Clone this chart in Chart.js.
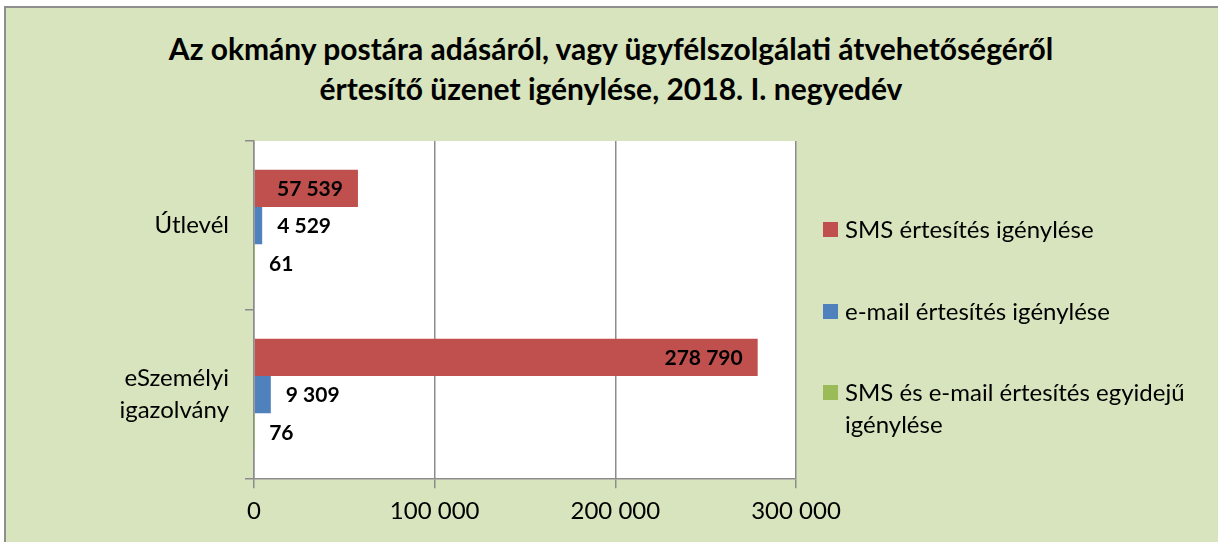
<!DOCTYPE html>
<html>
<head>
<meta charset="utf-8">
<script src="https://cdn.jsdelivr.net/npm/chart.js@4.4.1/dist/chart.umd.min.js"></script>
<style>
	body { margin:0; background:#fff; font-family:Lato, sans-serif; }
	#frame { position:absolute; left:4px; top:6px; width:1220px; height:540px; background:#d7e4bd; border-left:2px solid #8e8e8e; border-top:2px solid #8e8e8e; }
	#wrap { position:absolute; left:0; top:0; width:1218px; height:542px; }
	#title { position:absolute; left:0; top:28px; width:1222px; text-align:center; font-weight:bold; font-size:30px; line-height:40px; color:#000; }
	#legend { position:absolute; left:823px; top:0; font-size:24px; color:#000; }
	.item { position:absolute; left:0; width:395px; display:flex; align-items:flex-start; line-height:32px; }
	.box { width:15px; height:15px; margin-top:9px; margin-right:7px; flex:none; }
	.txt { width:370px; }
</style>
</head>
<body>
<div id="frame"></div>
<div id="title"></div>
<div id="wrap"><canvas id="chart" width="1218" height="542"></canvas></div>
<div id="legend"></div>

<script>
var titleLines = ['Az okmány postára adásáról, vagy ügyfélszolgálati átvehetőségéről', 'értesítő üzenet igénylése, 2018. I. negyedév'];
var categories = ['Útlevél', ['eSzemélyi', 'igazolvány']];
var seriesNames = ['SMS értesítés igénylése', 'e-mail értesítés igénylése', 'SMS és e-mail értesítés egyidejű igénylése'];
var smsValues = [57539, 278790];
var emailValues = [4529, 9309];
var bothValues = [61, 76];
var xTicks = [0, 100000, 200000, 300000];
var colors = ['#c0504d', '#4f81bd', '#9bbb59'];

function fmt(v) {
	return v.toString().replace(/\B(?=(\d{3})+(?!\d))/g, ' ');
}

document.getElementById('title').innerHTML = titleLines.join('<br>');

// white plot area
var plotBg = {
	id: 'plotBg',
	beforeDraw: function(chart) {
		var a = chart.chartArea, ctx = chart.ctx;
		ctx.save();
		ctx.fillStyle = '#fff';
		ctx.fillRect(a.left, a.top, a.right - a.left, a.bottom - a.top);
		ctx.restore();
	}
};

// value labels
var valueLabels = {
	id: 'valueLabels',
	afterDatasetsDraw: function(chart) {
		var ctx = chart.ctx;
		ctx.save();
		ctx.font = 'bold 21px Lato';
		ctx.fillStyle = '#000';
		ctx.textBaseline = 'middle';
		chart.data.datasets.forEach(function(ds, i) {
			chart.getDatasetMeta(i).data.forEach(function(bar, j) {
				var v = ds.data[j];
				if (i == 0) {
					ctx.textAlign = 'right';
					ctx.fillText(fmt(v), bar.x - 15, bar.y + 1);
				} else {
					ctx.textAlign = 'left';
					ctx.fillText(fmt(v), bar.x + 15, bar.y + 1);
				}
			});
		});
		ctx.restore();
	}
};

var config = {
	type: 'bar',
	data: {
		labels: categories,
		datasets: [
			{ label: seriesNames[0], data: smsValues, backgroundColor: colors[0] },
			{ label: seriesNames[1], data: emailValues, backgroundColor: colors[1] },
			{ label: seriesNames[2], data: bothValues, backgroundColor: colors[2] }
		]
	},
	options: {
		indexAxis: 'y',
		responsive: false,
		animation: false,
		layout: { padding: { left: 0, right: 422, top: 141, bottom: 7 } },
		datasets: { bar: { categoryPercentage: 0.66, barPercentage: 1 } },
		plugins: {
			legend: { display: false },
			tooltip: { enabled: false },
			title: { display: false }
		},
		scales: {
			x: {
				min: 0, max: 300000,
				afterBuildTicks: function(scale) {
					scale.ticks = xTicks.map(function(v) { return { value: v }; });
				},
				grid: { color: '#8c8c8c', lineWidth: 1.5, tickLength: 9, tickColor: '#8c8c8c' },
				border: { color: '#8c8c8c', width: 1.5 },
				ticks: {
					color: '#000', padding: 9, maxRotation: 0,
					font: { family: 'Lato', size: 24 },
					callback: function(v) { return fmt(v); }
				}
			},
			y: {
				afterFit: function(scale) { scale.width = 254; },
				grid: { offset: true, drawOnChartArea: false, color: '#8c8c8c', lineWidth: 1.5, tickLength: 9 },
				border: { color: '#8c8c8c', width: 1.5 },
				ticks: {
					color: '#000', padding: 16,
					font: { family: 'Lato', size: 24, lineHeight: 1.33 }
				}
			}
		}
	},
	plugins: [plotBg, valueLabels]
};

var chart = new Chart(document.getElementById('chart').getContext('2d'), config);

// legend on the right, built from the series
var legendTops = [213, 295, 376];
var legend = document.getElementById('legend');
seriesNames.forEach(function(name, i) {
	var item = document.createElement('div');
	item.className = 'item';
	item.style.top = legendTops[i] + 'px';
	item.innerHTML = '<div class="box" style="background:' + colors[i] + '"></div><div class="txt">' + name + '</div>';
	legend.appendChild(item);
});
</script>
</body>
</html>
